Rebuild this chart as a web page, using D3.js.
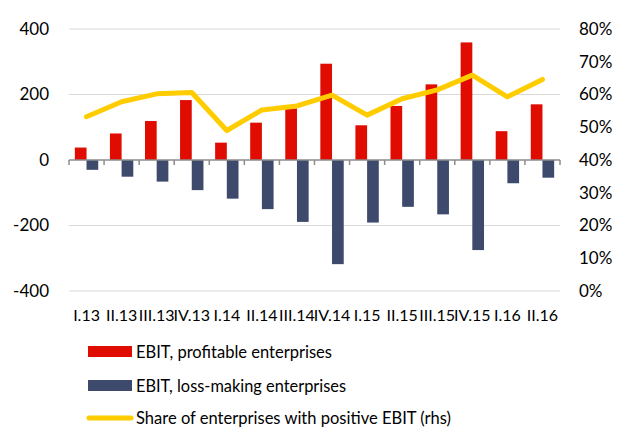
<!DOCTYPE html>
<html>
<head>
<meta charset="utf-8">
<script src="https://cdn.jsdelivr.net/npm/d3@7"></script>
<style>
  body { margin: 0; background: #fff; }
  text { font-family: Lato, "Liberation Sans", sans-serif; fill: #000; }
</style>
</head>
<body>
<svg id="chart" width="626" height="429"></svg>
<script>
// quarters on the x axis
var quarters = ["I.13", "II.13", "III.13", "IV.13", "I.14", "II.14", "III.14", "IV.14",
                "I.15", "II.15", "III.15", "IV.15", "I.16", "II.16"];

// EBIT of profitable enterprises (lhs)
var ebitProfit = [38, 81, 119, 183, 53, 114, 158, 294, 106, 165, 231, 359, 88, 170];
// EBIT of loss-making enterprises (lhs)
var ebitLoss = [-30, -51, -66, -92, -118, -150, -189, -318, -191, -143, -166, -275, -71, -54];
// share of enterprises with positive EBIT (rhs)
var sharePositive = [0.532, 0.578, 0.602, 0.606, 0.49, 0.553, 0.565, 0.598,
                     0.537, 0.587, 0.614, 0.659, 0.593, 0.646];

var leftTicks = [-400, -200, 0, 200, 400];
var rightTicks = [0, 0.1, 0.2, 0.3, 0.4, 0.5, 0.6, 0.7, 0.8];

var legendLabels = ["EBIT, profitable enterprises",
                    "EBIT, loss-making enterprises",
                    "Share of enterprises with positive EBIT (rhs)"];

var red = "#E00C00", navy = "#3D4A6C", gold = "#FFCC00";

var svg = d3.select("#chart");
// note: "top" is reserved on window, so use other names
var plotLeft = 69, plotRight = 560, plotTop = 29, plotBottom = 291;

var x = d3.scaleBand().domain(quarters).range([plotLeft, plotRight]).padding(0);
var inner = d3.scaleBand().domain(["p", "l"]).range([0, x.bandwidth()])
    .paddingInner(0).paddingOuter(0.5);
var y = d3.scaleLinear().domain([-400, 400]).range([plotBottom, plotTop]);
var yr = d3.scaleLinear().domain([0, 0.8]).range([plotBottom, plotTop]);

// gridlines
svg.append("g")
    .selectAll("line")
    .data(leftTicks.filter(function (d) { return d !== 0; }))
    .join("line")
    .attr("x1", plotLeft).attr("x2", plotRight)
    .attr("y1", function (d) { return y(d); })
    .attr("y2", function (d) { return y(d); })
    .attr("stroke", "#D9D9D9").attr("stroke-width", 1);

// left axis labels (plain hyphen for negatives, like the original)
var yAxis = svg.append("g")
    .attr("transform", "translate(49,0)")
    .call(d3.axisLeft(y).tickValues(leftTicks).tickFormat(function (d) { return String(d); })
        .tickSize(0).tickPadding(0));
yAxis.select(".domain").remove();
yAxis.selectAll("text").style("font-size", "17px").style("font-family", "Lato, sans-serif").attr("fill", "#000");

// right axis labels
var yrAxis = svg.append("g")
    .attr("transform", "translate(579,0)")
    .call(d3.axisRight(yr).tickValues(rightTicks).tickFormat(d3.format(".0%")).tickSize(0).tickPadding(0));
yrAxis.select(".domain").remove();
yrAxis.selectAll("text").style("font-size", "17px").style("font-family", "Lato, sans-serif").attr("fill", "#000");

// bars
svg.append("g")
    .selectAll("rect")
    .data(ebitProfit)
    .join("rect")
    .attr("x", function (d, i) { return x(quarters[i]) + inner("p"); })
    .attr("width", inner.bandwidth())
    .attr("y", function (d) { return y(d); })
    .attr("height", function (d) { return y(0) - y(d); })
    .attr("fill", red);

svg.append("g")
    .selectAll("rect")
    .data(ebitLoss)
    .join("rect")
    .attr("x", function (d, i) { return x(quarters[i]) + inner("l"); })
    .attr("width", inner.bandwidth())
    .attr("y", y(0))
    .attr("height", function (d) { return y(d) - y(0); })
    .attr("fill", navy);

// zero axis with tick marks at category borders
var borders = quarters.map(function (q) { return x(q); }).concat([plotRight]);
svg.append("line")
    .attr("x1", plotLeft).attr("x2", plotRight)
    .attr("y1", y(0)).attr("y2", y(0))
    .attr("stroke", "#8C8C8C").attr("stroke-width", 1.5);
svg.append("g")
    .selectAll("line")
    .data(borders)
    .join("line")
    .attr("x1", function (d) { return d; }).attr("x2", function (d) { return d; })
    .attr("y1", y(0)).attr("y2", y(0) + 5)
    .attr("stroke", "#8C8C8C").attr("stroke-width", 1.5);

// share line
var line = d3.line()
    .x(function (d, i) { return x(quarters[i]) + x.bandwidth() / 2; })
    .y(function (d) { return yr(d); });
svg.append("path")
    .datum(sharePositive)
    .attr("d", line)
    .attr("fill", "none")
    .attr("stroke", gold)
    .attr("stroke-width", 5)
    .attr("stroke-linejoin", "round")
    .attr("stroke-linecap", "round");

// category labels
var xAxis = svg.append("g")
    .attr("transform", "translate(0,310)")
    .call(d3.axisBottom(x).tickSize(0).tickPadding(0));
xAxis.select(".domain").remove();
xAxis.selectAll("text").style("font-size", "16px").style("font-family", "Lato, sans-serif").attr("fill", "#000");

// legend
var legend = svg.append("g");
var rows = [352, 386, 418];
legend.append("rect").attr("x", 88).attr("y", rows[0] - 6).attr("width", 44).attr("height", 11).attr("fill", red);
legend.append("rect").attr("x", 88).attr("y", rows[1] - 6).attr("width", 44).attr("height", 11).attr("fill", navy);
legend.append("line").attr("x1", 89).attr("x2", 131).attr("y1", rows[2]).attr("y2", rows[2])
    .attr("stroke", gold).attr("stroke-width", 5).attr("stroke-linecap", "round");
var legendWidths = [196, 210, 315];
legend.selectAll("text")
    .data(legendLabels)
    .join("text")
    .attr("x", 136)
    .attr("y", function (d, i) { return rows[i]; })
    .attr("dy", "0.35em")
    .attr("textLength", function (d, i) { return legendWidths[i]; })
    .attr("lengthAdjust", "spacingAndGlyphs")
    .style("font-size", "18px")
    .text(function (d) { return d; });
</script>
</body>
</html>
